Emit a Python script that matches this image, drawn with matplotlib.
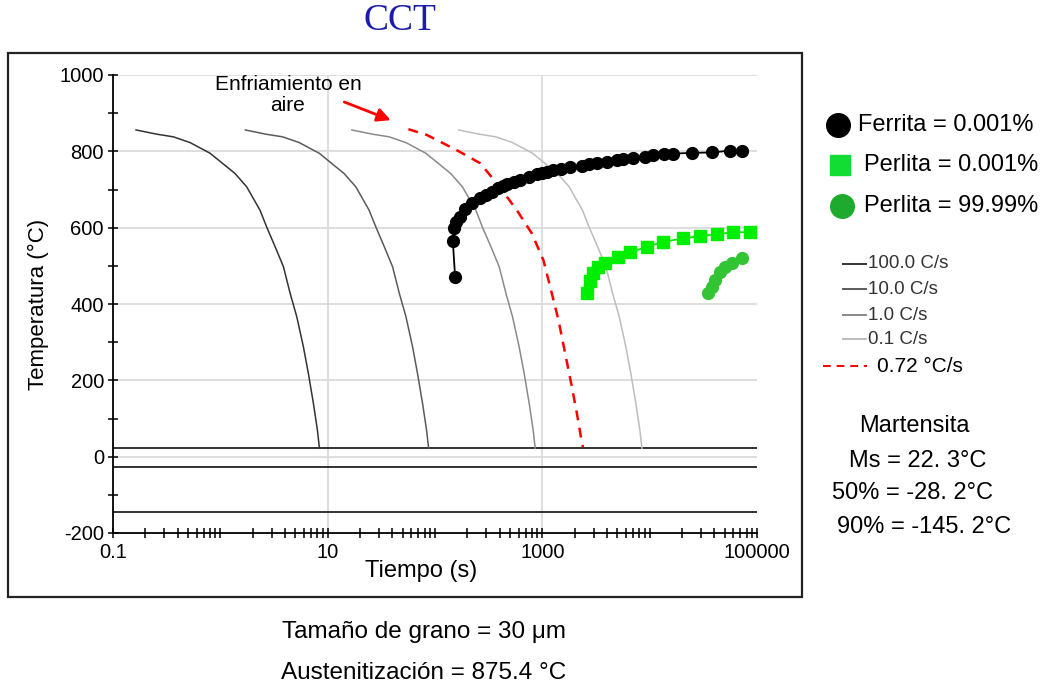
import numpy as np
import matplotlib
matplotlib.use('Agg')
import matplotlib.pyplot as plt
from matplotlib.lines import Line2D
from matplotlib.patches import Rectangle
from matplotlib.ticker import FixedLocator, LogLocator, MultipleLocator, NullFormatter

plt.rcParams['font.family'] = ['Liberation Sans', 'DejaVu Sans']
plt.rcParams['axes.unicode_minus'] = False

# --- data ---
# cooling curves: shared temperatures, time (s) for each rate
curve_temps = [856, 845, 838, 823, 795, 742, 707, 646, 602, 550, 498, 428, 367, 288, 218, 140, 70, 22.3]
t_100 = [0.164, 0.255, 0.365, 0.522, 0.802, 1.37, 1.76, 2.34, 2.70, 3.24, 3.87, 4.47, 5.15, 5.94, 6.61, 7.36, 8.02, 8.38]
t_10 = [1.71, 2.65, 3.80, 5.43, 8.34, 14.2, 18.3, 24.3, 28.1, 33.7, 40.2, 46.5, 53.6, 61.8, 68.7, 76.5, 83.4, 87.2]
t_1 = [16.8, 26.1, 37.4, 53.5, 82.1, 140, 180, 240, 276, 332, 396, 458, 527, 608, 677, 754, 821, 858]
t_01 = [166, 258, 369, 527, 810, 1384, 1778, 2363, 2727, 3272, 3909, 4515, 5202, 6000, 6676, 7434, 8100, 8464]
rate_labels = ['100.0 C/s', '10.0 C/s', '1.0 C/s', '0.1 C/s']
rate_colors = ['#333333', '#5a5a5a', '#8a8a8a', '#bdbdbd']

# air cooling 0.72 C/s
air_t = [56.5, 83.9, 159.6, 263, 377, 578, 798, 1023, 1225, 1413, 1631, 1883, 2097, 2335, 2390]
air_T = [858, 843, 803, 769, 716, 646, 585, 515, 428, 358, 271, 183, 114, 37, 25]

# ferrite start
fer_t = [154, 146.5, 150, 158, 171, 191, 220, 263, 300, 338, 390, 430, 467, 540, 621, 750, 889,
         1000, 1100, 1268, 1500, 1815, 2335, 2700, 3220, 4000, 4945, 5700, 7065, 9000,
         10840, 13500, 16660, 24700, 38000, 56300, 72300]
fer_T = [470, 566, 598, 615, 629, 648, 664, 677, 686, 694, 703, 708, 714, 719, 725, 732, 740,
         744, 747, 751, 755, 758, 762, 766, 769, 772, 776, 779, 782, 785,
         790, 792, 794, 796, 797, 802, 802]

# pearlite 0.001 %
per1_t = [2600, 2790, 2995, 3333, 3848, 5120, 6580, 9420, 13450, 20650, 29500, 42300, 60400, 86300]
per1_T = [429, 459, 480, 498, 507, 524, 535, 550, 563, 572, 578, 583, 588, 588]

# pearlite 99.99 %
per2_t = [35300, 38000, 40800, 45400, 50600, 58400, 72300]
per2_T = [428, 445, 463, 485, 498, 507, 520]

# martensite lines
ms_vals = [22.3, -28.2, -145.2]


W, H = 1052, 689
def fx(px):
    return px / W
def fy(py):
    return 1 - py / H

fig = plt.figure(figsize=(W / 100, H / 100), dpi=100)
ax = fig.add_axes([fx(113), fy(533), (757 - 113) / W, (533 - 75) / H])

ax.set_xscale('log')
ax.set_xlim(0.1, 1e5)
ax.set_ylim(-200, 1000)

# grid
for yv in range(0, 1001, 200):
    ax.axhline(yv, color='#d8d8d8', lw=1.2, zorder=0)
for xv in [10, 1000]:
    ax.axvline(xv, color='#d8d8d8', lw=1.2, zorder=0)

# martensite
for v in ms_vals:
    ax.axhline(v, color='#222222', lw=1.3, zorder=2)

for tt, col in zip([t_100, t_10, t_1, t_01], rate_colors):
    ax.plot(tt, curve_temps, color=col, lw=1.1, zorder=3)

ax.plot(air_t, air_T, color='red', lw=1.8, ls=(0, (4, 3)), zorder=4)

ax.plot(fer_t, fer_T, '-o', color='black', ms=8.5, lw=1.3, zorder=5)
ax.plot(per1_t, per1_T, '-s', color='#00ee00', ms=9, lw=1.3, zorder=5)
ax.plot(per2_t, per2_T, '-o', color='#33c433', ms=8.5, lw=1.3, zorder=5)

# axes styling
for s in ['top', 'right']:
    ax.spines[s].set_visible(False)
for s in ['left', 'bottom']:
    ax.spines[s].set_linewidth(1.3)
    ax.spines[s].set_color('black')

ax.xaxis.set_major_locator(FixedLocator([0.1, 1, 10, 100, 1000, 1e4, 1e5]))
ax.set_xticklabels(['0.1', '', '10', '', '1000', '', '100000'])
ax.xaxis.set_minor_locator(LogLocator(base=10, subs=np.arange(2, 10)))
ax.xaxis.set_minor_formatter(NullFormatter())
ax.yaxis.set_major_locator(FixedLocator(range(-200, 1001, 200)))
ax.yaxis.set_minor_locator(MultipleLocator(100))
ax.tick_params(which='both', direction='inout', length=7, width=1.1, labelsize=14.5, pad=3)
ax.tick_params(axis='x', pad=4)

ax.set_xlabel('Tiempo (s)', fontsize=17)
ax.set_ylabel('Temperatura (°C)', fontsize=16)
ax.xaxis.set_label_coords(0.478, -0.06)
ax.yaxis.set_label_coords(-0.1, 0.5)

# annotation
ax.text(4.27, 947, 'Enfriamiento en\naire', ha='center', va='center', fontsize=15, linespacing=1.1)
ax.annotate('', xy=(40.9, 879), xytext=(13.5, 932),
            arrowprops=dict(arrowstyle='-|>', color='red', lw=2, mutation_scale=20))

# title and frame
fig.text(fx(400), fy(21), 'CCT', ha='center', va='center', fontsize=27,
         family=['Liberation Serif', 'DejaVu Serif'], color='#1c1ca8')
fig.add_artist(Rectangle((fx(8), fy(597)), (802 - 8) / W, (597 - 53) / H, fill=False,
                         ec='#222222', lw=1.6, transform=fig.transFigure))

# phase legend
leg_font = 17
fig.add_artist(Line2D([fx(838)], [fy(125)], marker='o', ms=17, color='black', transform=fig.transFigure))
fig.text(fx(858), fy(125), 'Ferrita = 0.001%', ha='left', va='center', fontsize=leg_font)
fig.add_artist(Line2D([fx(840)], [fy(165)], marker='s', ms=14, color='#11dd33', transform=fig.transFigure))
fig.text(fx(864), fy(165), 'Perlita = 0.001%', ha='left', va='center', fontsize=leg_font)
fig.add_artist(Line2D([fx(842)], [fy(206)], marker='o', ms=17, color='#1daa2d', transform=fig.transFigure))
fig.text(fx(864), fy(206), 'Perlita = 99.99%', ha='left', va='center', fontsize=leg_font)

# rate legend
for lab, col, py in zip(rate_labels, rate_colors, [264, 289, 315, 339]):
    fig.add_artist(Line2D([fx(843), fx(866)], [fy(py), fy(py)], color=col, lw=1.4, transform=fig.transFigure))
    fig.text(fx(868), fy(py), lab, ha='left', va='center', fontsize=13.5, color='#333333')
fig.add_artist(Line2D([fx(823), fx(867)], [fy(366), fy(366)], color='red', lw=1.4, ls=(0, (4, 3)),
                      transform=fig.transFigure))
fig.text(fx(877), fy(366), '0.72 °C/s', ha='left', va='center', fontsize=15)

# martensite texts
fig.text(fx(914), fy(426), 'Martensita', ha='center', va='center', fontsize=leg_font)
fig.text(fx(918), fy(461), 'Ms = 22. 3°C', ha='center', va='center', fontsize=leg_font)
fig.text(fx(913), fy(493), '50% = -28. 2°C', ha='center', va='center', fontsize=leg_font)
fig.text(fx(924), fy(527), '90% = -145. 2°C', ha='center', va='center', fontsize=leg_font)

# bottom notes
fig.text(fx(424), fy(632), 'Tamaño de grano = 30 μm', ha='center', va='center', fontsize=17.5)
fig.text(fx(424), fy(673), 'Austenitización = 875.4 °C', ha='center', va='center', fontsize=17.5)

fig.savefig('out.png', dpi=100)
